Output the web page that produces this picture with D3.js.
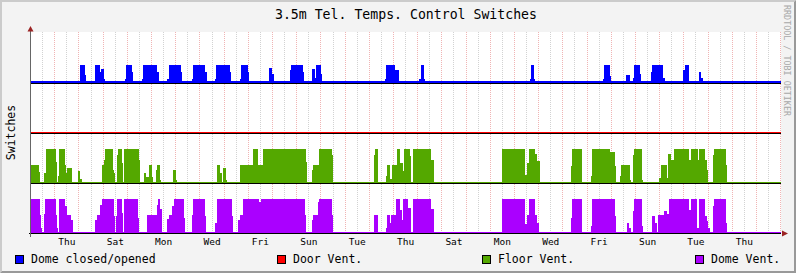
<!DOCTYPE html>
<html>
<head>
<meta charset="utf-8">
<script src="https://cdn.jsdelivr.net/npm/d3@7/dist/d3.min.js"></script>
<style>
    body { margin: 0; background: #fff; }
    text { font-family: "DejaVu Sans Mono", monospace; }
</style>
</head>
<body>
<div id="chart"></div>
<script>

// each pair = [hours after graph start, switch value from then on]
var domeSteps = [[48.6,1],[53.3,0.44],[54.3,0],
    [63.8,1],[68.4,0.6],[69.4,0.77],[72.4,0.2],[73.4,0],
    [93.5,0.2],[94.5,1],[100.5,0.6],[101.5,0],
    [110.1,0.2],[111.4,1],[125.3,0.6],[126.7,0],
    [135.2,0.2],[136.6,1],[148.8,0.6],[150.1,0],
    [160.0,0.2],[161.0,1],[172.9,0.6],[174.3,0],
    [182.5,0.2],[183.8,1],[197.4,0.6],[198.7,0],
    [207.3,0.2],[208.3,1],[215.0,0.6],[216.6,0],
    [236.1,0.85],[239.1,0.5],[241.1,0],
    [256.9,0.7],[258.2,1],[269.5,0.6],[270.8,0],
    [278.8,0.77],[281.4,0.3],[282.7,1],[287.7,0.5],[289.0,0],
    [351.2,0.2],[352.2,1],[361.1,0.7],[365.1,0],
    [385.2,0.2],[386.6,1],[389.9,0.2],[390.8,0],
    [495.0,0.2],[496.3,1],[499.3,0.2],[500.3,0],
    [567.1,0.2],[568.4,1],[574.1,0.4],[575.4,0],
    [590.2,0.44],[594.2,0],
    [596.9,0.3],[598.5,1],[604.1,0.5],[605.1,0],
    [614.7,0.6],[616.3,1],[627.2,0.3],[628.9,0],
    [646.8,0.7],[649.1,1],[652.4,0.5],[653.0,0],
    [662.7,0.6],[664.9,0.3],[666.3,0]];

var doorSteps = [[0,0]];

var floorSteps = [[0,0.53],[7.9,0.33],[8.9,0],
    [12.9,0.28],[14.6,1],[24.8,0.63],[25.8,0],
    [26.5,0.2],[27.5,1],[33.7,0.53],[35.0,0.28],[36.0,0.45],[40.4,0],
    [46.3,0.35],[48.9,0.11],[50.6,0],
    [70.1,0.53],[72.1,0.68],[73.4,1],[81.0,0.37],[82.3,0.28],[83.3,0],
    [85.0,0.82],[86.3,1],[90.0,0.6],[91.0,0],
    [92.0,1],[107.1,0.68],[108.1,0],
    [112.1,0.28],[114.4,0.19],[116.8,0.53],[120.0,0.19],[121.0,0],
    [123.7,0.37],[125.3,0.53],[127.7,0.1],[128.7,0],
    [140.6,0.37],[143.5,0.09],[144.8,0],
    [184.2,0.53],[187.5,0.28],[189.2,0],
    [190.8,0.45],[193.4,0.09],[194.7,0],
    [207.3,0.53],[219.9,1],[225.5,0.53],[230.4,1],[272.8,0.63],[273.8,0],
    [278.5,0.37],[279.5,0.53],[286.0,1],[298.3,0.82],[299.3,0],
    [340.3,0.82],[341.2,1],[344.5,0],
    [352.2,0.2],[353.2,0.53],[356.4,0.11],[357.8,0.53],[362.8,1],[366.0,0.6],[368.7,0.35],[370.0,1],[376.0,0.78],[377.0,0],
    [379.2,1],[396.5,0.68],[399.8,0],
    [466.9,1],[490.0,0.24],[491.7,0.6],[494.3,1],[500.0,0.85],[502.3,0.65],[504.9,0],
    [535.7,0.5],[537.0,1],[546.3,0],
    [555.5,0.2],[557.0,1],[574.4,0.92],[579.3,0.5],[580.3,0],
    [584.0,0.2],[585.0,0.53],[594.2,0.1],[595.2,0],
    [597.5,0.82],[598.5,1],[605.8,0.1],[606.8,0],
    [623.3,0.15],[624.7,0.53],[630.6,0.15],[632.2,0.85],[634.9,0.68],[637.9,1],[653.0,0.68],[654.7,1],[661.4,0.68],[662.7,1],[668.6,0.68],[670.3,0.38],[671.9,0],
    [676.2,0.82],[677.5,1],[689.1,0.53],[690.1,0]];

var ventSteps = [[0,1],[8.9,0.53],[9.9,0.14],[11.2,0],
    [12.9,0.55],[13.9,1],[24.8,0.53],[26.1,0.15],[27.1,0],
    [27.8,1],[33.7,0.8],[36.0,0.53],[39.2,0.38],[42.0,0],
    [63.5,0.38],[65.2,0.53],[68.4,0.82],[70.1,1],[82.3,0.5],[83.6,0],
    [84.3,0.5],[85.6,1],[90.0,0.6],[91.0,0],
    [91.8,1],[106.4,0.45],[107.4,0],
    [114.8,0.53],[124.7,0.82],[126.3,1],[128.3,0.7],[129.7,0],
    [134.9,0.4],[136.9,0.53],[140.2,0.8],[141.6,1],[151.5,0.45],[152.8,0],
    [159.4,0.53],[161.0,1],[172.2,0.5],[173.9,0],
    [182.5,0.3],[184.2,1],[199.4,0.5],[200.7,0],
    [205.6,0.38],[207.3,0.53],[210.6,1],[226.5,0.9],[227.9,1],[271.8,0.53],[273.1,0],
    [278.5,0.38],[279.5,0.53],[285.0,0.9],[286.0,1],[298.3,0.53],[299.6,0],
    [340.3,0.53],[344.5,0],
    [352.2,0.14],[353.5,0.53],[356.4,0.28],[357.1,0.53],[362.1,1],[366.0,0.68],[367.7,0.38],[369.5,1],[374.3,0.75],[377.0,0],
    [379.2,1],[396.5,0.7],[399.8,0],
    [466.9,1],[490.0,0.26],[491.7,0.53],[494.0,1],[500.0,0.53],[502.3,0.28],[504.4,0],
    [535.7,0.45],[537.0,1],[546.3,0],
    [555.5,0.2],[557.0,1],[579.3,0.5],[580.3,0],
    [590.9,0.28],[593.5,0.14],[594.9,0],
    [597.5,0.65],[598.5,1],[605.8,0.2],[606.8,0],
    [616.3,0.5],[619.0,0.3],[620.6,0],
    [621.7,0.53],[627.9,0.64],[630.6,0.55],[633.2,1],[653.0,0.68],[654.7,1],[660.4,0.14],[662.7,1],[668.6,0.5],[670.3,0.35],[671.9,0.14],[673.6,0],
    [676.2,0.8],[677.8,1],[689.1,0.28],[690.1,0]];

var seriesNames = ["Dome closed/opened", "Door Vent.", "Floor Vent.", "Dome Vent."];
var dayLabels = ["Thu","Sat","Mon","Wed","Fri","Sun","Tue","Thu","Sat","Mon","Wed","Fri","Sun","Tue","Thu"];
var totalHours = 744;

drawSwitches();

function drawSwitches(){

    var W = 796, H = 273;
    var left = 31, right = 781, top = 32, bottom = 233;

    var start = new Date(2014, 0, 1, 0, 54);          // a Wednesday, shortly after midnight
    var end = new Date(start.getTime() + totalHours*3600e3);
    function hourToDate(h){ return new Date(start.getTime() + h*3600e3); }

    var x = d3.scaleTime().domain([start, end]).range([left, right]);
    // 4 bands of 50px, each switch sits on its own baseline
    var y = d3.scaleLinear().domain([0, 4]).range([bottom, bottom - 200]);

    var svg = d3.select("#chart").append("svg")
        .attr("width", W).attr("height", H);

    // rrdtool style frame
    svg.append("rect").attr("width", W).attr("height", H).attr("fill", "#f3f3f3");
    svg.append("path").attr("d", "M0,0H796L794,2H2V271L0,273Z").attr("fill", "#cbcbcb");
    svg.append("path").attr("d", "M796,0V273H0L2,271H794V2Z").attr("fill", "#999999");

    svg.append("rect")
        .attr("x", left).attr("y", top)
        .attr("width", right - left).attr("height", bottom - top)
        .attr("fill", "#ffffff");

    // vertical grid: every 12h grey, midnight red
    var gridHours = d3.timeHour.every(12).range(start, end);
    svg.append("g").selectAll("line").data(gridHours).enter().append("line")
        .attr("x1", function(d){ return Math.round(x(d)) + 0.5; })
        .attr("x2", function(d){ return Math.round(x(d)) + 0.5; })
        .attr("y1", top).attr("y2", bottom)
        .attr("stroke", function(d){ return d.getHours() === 0 ? "#f0b4b4" : "#d2d2d2"; })
        .attr("stroke-width", 1)
        .attr("stroke-dasharray", "1,1");

    // band setup: offset on y scale, full-on height, colour, width of zero line
    var bands = [
        {steps: domeSteps,  off: 3, amp: 0.36, color: "#0000ff", lw: 2},
        {steps: doorSteps,  off: 2, amp: 0.68, color: "#ff0000", lw: 1},
        {steps: floorSteps, off: 1, amp: 0.68, color: "#54a800", lw: 1},
        {steps: ventSteps,  off: 0, amp: 0.68, color: "#aa00ff", lw: 1}
    ];

    bands.forEach(function(b){
        var pts = b.steps.slice();
        if (pts[0][0] > 0) pts.unshift([0, 0]);
        pts.push([totalHours, 0]);

        var area = d3.area()
            .curve(d3.curveStepAfter)
            .x(function(d){ return x(hourToDate(d[0])); })
            .y0(y(b.off))
            .y1(function(d){ return y(b.off + b.amp*d[1]); });

        svg.append("path").datum(pts)
            .attr("d", area)
            .attr("fill", b.color)
            .attr("shape-rendering", "crispEdges");

        // coloured zero line + black baseline under it
        svg.append("rect")
            .attr("x", left).attr("y", y(b.off) - b.lw)
            .attr("width", right - left).attr("height", b.lw)
            .attr("fill", b.color);
        svg.append("rect")
            .attr("x", b.off === 0 ? left - 2 : left).attr("y", y(b.off))
            .attr("width", right - left + (b.off === 0 ? 2 : 0)).attr("height", 1)
            .attr("fill", "#000000");
    });

    // y axis line + arrows
    svg.append("line")
        .attr("x1", left - 0.5).attr("x2", left - 0.5)
        .attr("y1", 29).attr("y2", bottom + 4)
        .attr("stroke", "#666666");
    svg.append("path").attr("d", "M27.5,31.5L33.5,31.5L30.5,26Z").attr("fill", "#9b2323");
    svg.append("path").attr("d", "M782,230.5L782,236.5L788,233.5Z").attr("fill", "#9b2323");

    // day labels sit at noon, every 2nd day from the first Thursday
    var firstNoon = d3.timeDay.ceil(start);
    firstNoon = d3.timeHour.offset(firstNoon, 12);
    var labelDates = dayLabels.map(function(d, i){ return d3.timeDay.offset(firstNoon, i*2); });

    var xAxis = d3.axisBottom(x)
        .tickValues(labelDates)
        .tickFormat(function(d, i){ return dayLabels[i]; })
        .tickSize(0)
        .tickPadding(5);

    var gx = svg.append("g")
        .attr("transform", "translate(0," + bottom + ")")
        .call(xAxis);
    gx.select(".domain").remove();
    gx.selectAll("text")
        .attr("font-family", "DejaVu Sans Mono")
        .attr("font-size", "9.5px")
        .attr("fill", "#000");

    // title
    svg.append("text").text("3.5m Tel. Temps. Control Switches")
        .attr("x", 406).attr("y", 18.5)
        .attr("text-anchor", "middle")
        .attr("font-size", "13.2px")
        .attr("fill", "#000");

    svg.append("text").text("Switches")
        .attr("transform", "translate(15,132.5) rotate(-90)")
        .attr("text-anchor", "middle")
        .attr("font-size", "11.5px")
        .attr("fill", "#000");

    svg.append("text").text("RRDTOOL / TOBI OETIKER")
        .attr("transform", "translate(783.5,5) rotate(90)")
        .attr("font-size", "8.4px")
        .attr("textLength", 111)
        .attr("fill", "#a8a8a8");

    // legend
    var legendX = [15, 277, 482, 695];
    var lg = svg.append("g").selectAll("g").data(bands).enter().append("g")
        .attr("transform", function(d, i){ return "translate(" + legendX[i] + ",255)"; });
    lg.append("rect")
        .attr("x", 0.5).attr("y", 0.5)
        .attr("width", 8).attr("height", 8)
        .attr("fill", function(d){ return d.color; })
        .attr("stroke", "#000");
    lg.append("text")
        .text(function(d, i){ return seriesNames[i]; })
        .attr("x", 16).attr("y", 8)
        .attr("font-size", "11.5px")
        .attr("fill", "#000");
}
</script>
</body>
</html>
